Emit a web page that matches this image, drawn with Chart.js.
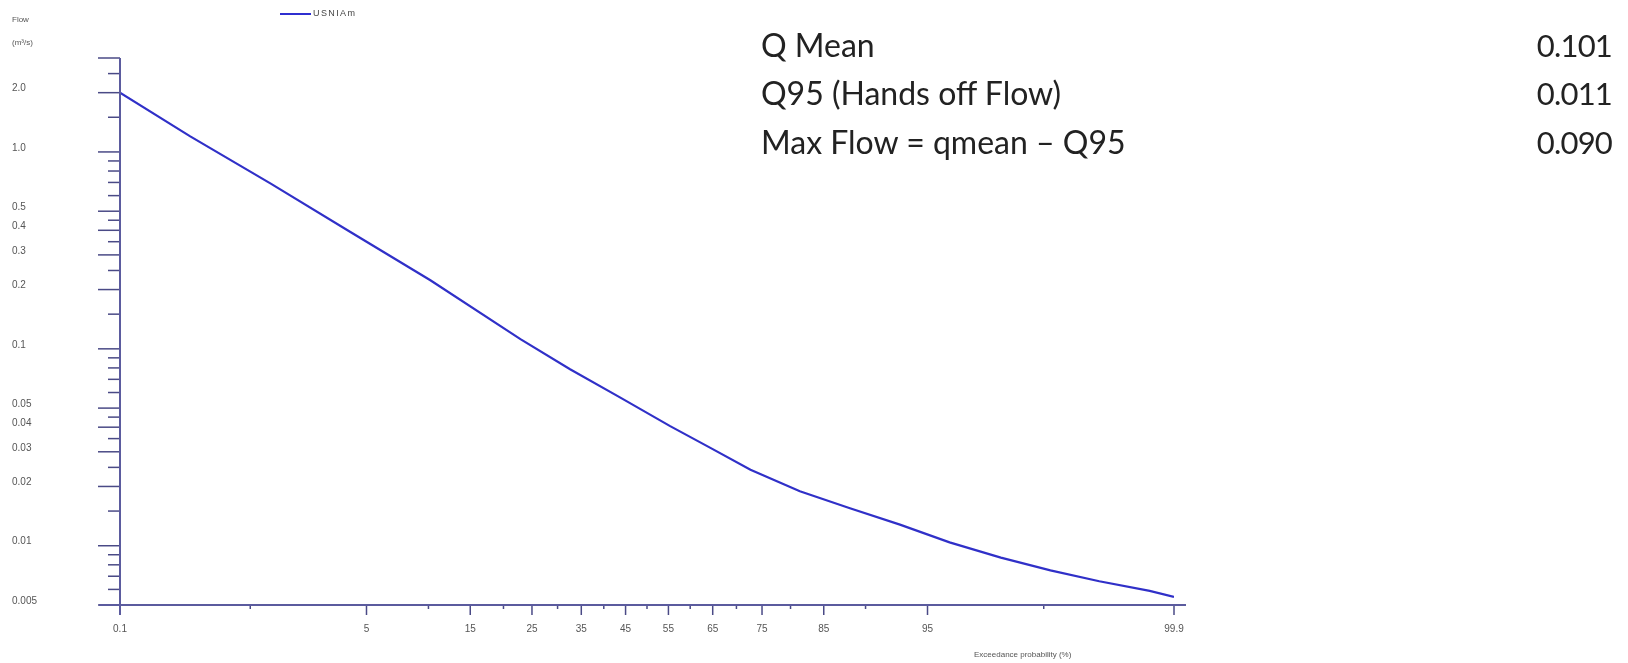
<!DOCTYPE html>
<html>
<head>
<meta charset="utf-8">
<script src="https://cdn.jsdelivr.net/npm/chart.js@4.4.1/dist/chart.umd.min.js"></script>
<style>
  html, body { margin: 0; padding: 0; background: #fff; }
  #wrap { position: relative; width: 1628px; height: 663px; overflow: hidden; }
  #c { position: absolute; left: 0; top: 0; }
  .small { position: absolute; font-family: "Liberation Sans", Arial, sans-serif; font-size: 8px; color: #555; white-space: nowrap; }
  .stat { position: absolute; font-family: Lato, "Open Sans", sans-serif; font-size: 32px; color: #222; white-space: nowrap; line-height: 40px; }
  .statv { text-align: right; font-size: 31px; letter-spacing: -0.8px; }
  #legline { position: absolute; left: 280px; top: 13px; width: 31px; height: 2px; background: #2f2fd0; }
</style>
</head>
<body>
<div id="wrap">
  <canvas id="c" width="1628" height="663"></canvas>
  <div class="small" style="left:12px; top:15px;">Flow</div>
  <div class="small" style="left:12px; top:38px;">(m³/s)</div>
  <div id="legline"></div>
  <div class="small" style="left:313px; top:8px; color:#444; font-size:9px; letter-spacing:1.4px;">USNIAm</div>
  <div class="small" style="left:974px; top:650px;">Exceedance probability (%)</div>
  <div id="stats"></div>
</div>
<script>
// ---------- data ----------
const exceedance = [0.1, 0.37, 1.36, 4.1, 10.2, 22.9, 32.6, 43.8, 55.4, 64.5, 72.8, 81.5, 88.3, 93.1, 96.2, 98.1, 99.1, 99.6, 99.84, 99.9];
const flow       = [2.0, 1.20, 0.692, 0.392, 0.223, 0.112, 0.0788, 0.0565, 0.0405, 0.0314, 0.0243, 0.0189, 0.0155, 0.0128, 0.0104, 0.0087, 0.0075, 0.0066, 0.0059, 0.0055];
const seriesName = "USNIAm";

const xMajorTicks = [0.1, 5, 15, 25, 35, 45, 55, 65, 75, 85, 95, 99.9];
const xMinorTicks = [1, 10, 20, 30, 40, 50, 60, 70, 80, 90, 99];
const yMajorTicks = [3, 2, 1, 0.5, 0.4, 0.3, 0.2, 0.1, 0.05, 0.04, 0.03, 0.02, 0.01, 0.005];
const yMinorTicks = [2.5, 1.5, 0.9, 0.8, 0.7, 0.6, 0.45, 0.35, 0.25, 0.15, 0.09, 0.08, 0.07, 0.06, 0.045, 0.035, 0.025, 0.015, 0.009, 0.008, 0.007, 0.006];
const yTickLabels = {2: "2.0", 1: "1.0", 0.5: "0.5", 0.4: "0.4", 0.3: "0.3", 0.2: "0.2", 0.1: "0.1", 0.05: "0.05", 0.04: "0.04", 0.03: "0.03", 0.02: "0.02", 0.01: "0.01", 0.005: "0.005"};
const xTickLabels = ["0.1", "5", "15", "25", "35", "45", "55", "65", "75", "85", "95", "99.9"];

const statLabels = ["Q Mean", "Q95 (Hands off Flow)", "Max Flow = qmean \u2013 Q95"];
const statValues = ["0.101", "0.011", "0.090"];

// ---------- stats text ----------
const stats = document.getElementById('stats');
statLabels.forEach((t, i) => {
  const l = document.createElement('div');
  l.className = 'stat'; l.textContent = t;
  l.style.left = '761px'; l.style.top = (25 + i * 48.3) + 'px';
  stats.appendChild(l);
  const v = document.createElement('div');
  v.className = 'stat statv'; v.textContent = statValues[i];
  v.style.right = '16px'; v.style.top = (25 + i * 48.3) + 'px';
  stats.appendChild(v);
});

// ---------- normal probability helpers ----------
function normInv(p) {
  const a = [-3.969683028665376e+01, 2.209460984245205e+02, -2.759285104469687e+02, 1.383577518672690e+02, -3.066479806614716e+01, 2.506628277459239e+00];
  const b = [-5.447609879822406e+01, 1.615858368580409e+02, -1.556989798598866e+02, 6.680131188771972e+01, -1.328068155288572e+01];
  const c = [-7.784894002430293e-03, -3.223964580411365e-01, -2.400758277161838e+00, -2.549732539343734e+00, 4.374664141464968e+00, 2.938163982698783e+00];
  const d = [7.784695709041462e-03, 3.224671290700398e-01, 2.445134137142996e+00, 3.754408661907416e+00];
  const pl = 0.02425, ph = 1 - pl;
  let q, r;
  if (p < pl) { q = Math.sqrt(-2 * Math.log(p)); return (((((c[0]*q+c[1])*q+c[2])*q+c[3])*q+c[4])*q+c[5]) / ((((d[0]*q+d[1])*q+d[2])*q+d[3])*q+1); }
  if (p <= ph) { q = p - 0.5; r = q*q; return (((((a[0]*r+a[1])*r+a[2])*r+a[3])*r+a[4])*r+a[5])*q / (((((b[0]*r+b[1])*r+b[2])*r+b[3])*r+b[4])*r+1); }
  q = Math.sqrt(-2 * Math.log(1 - p)); return -(((((c[0]*q+c[1])*q+c[2])*q+c[3])*q+c[4])*q+c[5]) / ((((d[0]*q+d[1])*q+d[2])*q+d[3])*q+1);
}
function normCdf(z) {
  const t = 1 / (1 + 0.2316419 * Math.abs(z));
  const dd = 0.3989423 * Math.exp(-z * z / 2);
  let p = dd * t * (0.3193815 + t * (-0.3565638 + t * (1.781478 + t * (-1.821256 + t * 1.330274))));
  return z > 0 ? 1 - p : p;
}

// ---------- probability (probit) scale ----------
class ProbitScale extends Chart.Scale {
  determineDataLimits() {
    const { min, max } = this.getMinMax(false);
    this.min = (this.options.min !== undefined) ? this.options.min : min;
    this.max = (this.options.max !== undefined) ? this.options.max : max;
  }
  buildTicks() { return xMajorTicks.map(v => ({ value: v })); }
  getLabelForValue(v) { return String(v); }
  configure() {
    super.configure();
    this._zmin = normInv(this.min / 100);
    this._zmax = normInv(this.max / 100);
  }
  getPixelForValue(v) {
    if (v === null || v === undefined || isNaN(v)) return NaN;
    return this.getPixelForDecimal((normInv(v / 100) - this._zmin) / (this._zmax - this._zmin));
  }
  getValueForPixel(px) {
    return 100 * normCdf(this._zmin + this.getDecimalForPixel(px) * (this._zmax - this._zmin));
  }
}
ProbitScale.id = 'probit';
ProbitScale.defaults = {};
Chart.register(ProbitScale);

// ---------- axis lines & tick marks ----------
const AXIS_COLOR = '#5b5b9e';
const TICK_COLOR = '#4a4a86';
const axesPlugin = {
  id: 'probAxes',
  afterDraw(chart) {
    const { ctx, chartArea: a, scales: { x, y } } = chart;
    const seg = (x1, y1, x2, y2) => { ctx.beginPath(); ctx.moveTo(x1, y1); ctx.lineTo(x2, y2); ctx.stroke(); };
    ctx.save();
    ctx.lineWidth = 1.5;
    ctx.strokeStyle = TICK_COLOR;
    yMajorTicks.forEach(v => { const py = y.getPixelForValue(v); seg(a.left - 22, py, a.left, py); });
    yMinorTicks.forEach(v => { const py = y.getPixelForValue(v); seg(a.left - 12, py, a.left, py); });
    xMajorTicks.forEach(v => { const px = x.getPixelForValue(v); seg(px, a.bottom, px, a.bottom + 10); });
    xMinorTicks.forEach(v => { const px = x.getPixelForValue(v); seg(px, a.bottom, px, a.bottom + 4); });
    ctx.strokeStyle = AXIS_COLOR;
    ctx.lineWidth = 2;
    seg(a.left, a.top, a.left, a.bottom + 10);
    seg(a.left - 21, a.bottom, a.right + 12, a.bottom);
    ctx.restore();
  }
};

// ---------- chart ----------
new Chart(document.getElementById('c'), {
  type: 'line',
  data: {
    datasets: [{
      label: seriesName,
      data: exceedance.map((p, i) => ({ x: p, y: flow[i] })),
      borderColor: '#3030c8',
      borderWidth: 2.2,
      pointRadius: 0,
      tension: 0,
      fill: false
    }]
  },
  options: {
    responsive: false,
    animation: false,
    devicePixelRatio: 1,
    layout: { padding: { left: 12, top: 58, right: 454, bottom: 0 } },
    plugins: { legend: { display: false }, tooltip: { enabled: false } },
    scales: {
      x: {
        type: 'probit',
        min: 0.1, max: 99.9,
        grid: { display: false, drawTicks: false },
        border: { display: false },
        ticks: {
          autoSkip: false, maxRotation: 0, padding: 18,
          color: '#555', font: { family: 'Liberation Sans', size: 10 },
          callback: (v, i) => xTickLabels[i]
        },
        afterFit: s => { s.height = 58; }
      },
      y: {
        type: 'logarithmic',
        min: 0.005, max: 3,
        grid: { display: false, drawTicks: false },
        border: { display: false },
        afterBuildTicks: s => { s.ticks = yMajorTicks.concat(yMinorTicks).sort((p, q) => q - p).map(v => ({ value: v })); },
        ticks: {
          autoSkip: false, crossAlign: 'far', labelOffset: -4,
          color: '#555', font: { family: 'Liberation Sans', size: 10 },
          callback: v => (yTickLabels[v] !== undefined ? yTickLabels[v] : '')
        },
        afterFit: s => { s.width = 108; }
      }
    }
  },
  plugins: [axesPlugin]
});
</script>
</body>
</html>
